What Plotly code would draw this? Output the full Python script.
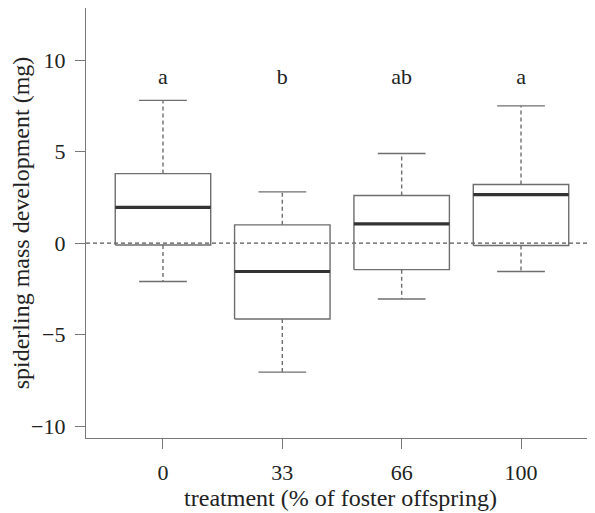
import plotly.graph_objects as go

categories = ["0", "33", "66", "100"]
lower_whisker = [-2.1, -7.05, -3.05, -1.55]
q1 = [-0.1, -4.15, -1.45, -0.13]
median = [1.95, -1.55, 1.05, 2.65]
q3 = [3.8, 1.0, 2.6, 3.2]
upper_whisker = [7.8, 2.8, 4.9, 7.5]
letters = ["a", "b", "ab", "a"]
letter_y = 9.0

BOX_HALF = 0.4
CAP_HALF = 0.2
box_col = "#6e6e6e"
med_col = "#333333"
font = "Liberation Serif"
DASH = "4px,3px"

fig = go.Figure()
pos = list(range(1, len(categories) + 1))

for i, x in enumerate(pos):
    fig.add_trace(go.Scatter(x=[x, x, None, x, x],
                             y=[q3[i], upper_whisker[i], None, q1[i], lower_whisker[i]],
                             mode="lines", line=dict(color=box_col, width=1.4, dash=DASH),
                             hoverinfo="skip", showlegend=False))
    fig.add_trace(go.Scatter(x=[x - CAP_HALF, x + CAP_HALF, None, x - CAP_HALF, x + CAP_HALF],
                             y=[upper_whisker[i], upper_whisker[i], None, lower_whisker[i], lower_whisker[i]],
                             mode="lines", line=dict(color=box_col, width=1.4),
                             hoverinfo="skip", showlegend=False))
    fig.add_trace(go.Scatter(x=[x - BOX_HALF, x + BOX_HALF, x + BOX_HALF, x - BOX_HALF, x - BOX_HALF],
                             y=[q1[i], q1[i], q3[i], q3[i], q1[i]],
                             mode="lines", line=dict(color=box_col, width=1.4),
                             hoverinfo="skip", showlegend=False))
    fig.add_trace(go.Scatter(x=[x - BOX_HALF, x + BOX_HALF], y=[median[i], median[i]],
                             mode="lines", line=dict(color=med_col, width=3.2),
                             hoverinfo="skip", showlegend=False))

fig.add_trace(go.Scatter(x=pos, y=[letter_y] * len(pos), mode="text", text=letters,
                         textfont=dict(family=font, size=22, color="#222"),
                         hoverinfo="skip", showlegend=False))

fig.add_shape(type="line", xref="paper", yref="y", x0=0, x1=1, y0=0, y1=0,
              line=dict(color="#555555", width=1.2, dash=DASH), layer="below")

fig.update_layout(
    width=587, height=505,
    margin=dict(l=78, r=0, t=0, b=75),
    paper_bgcolor="white", plot_bgcolor="white",
    font=dict(family=font, size=20, color="#222"),
    xaxis=dict(range=[0.355, 4.62], tickmode="array", tickvals=pos, ticktext=categories,
               showgrid=False, zeroline=False, showline=True, linecolor="#777", linewidth=1.4,
               ticks="outside", ticklen=10, tickcolor="#777", tickwidth=1.4, automargin=False,
               ticklabelstandoff=4,
               title=dict(text="treatment (% of foster offspring)", font=dict(size=24), standoff=0),
               tickfont=dict(size=22)),
    yaxis=dict(range=[-10.65, 12.85], tickvals=[-10, -5, 0, 5, 10],
               showgrid=False, zeroline=False, showline=True, linecolor="#777", linewidth=1.4,
               ticks="outside", ticklen=10, tickcolor="#777", tickwidth=1.4, automargin=False,
               ticklabelstandoff=5,
               title=dict(text="spiderling mass development (mg)", font=dict(size=24), standoff=0),
               tickfont=dict(size=22)),
)

fig.write_html("out.html")
